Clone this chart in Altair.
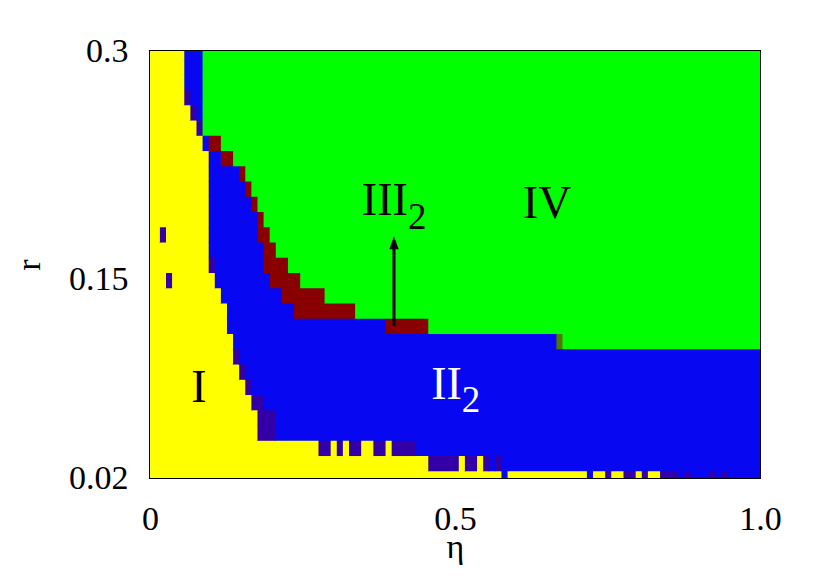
import altair as alt
import pandas as pd

# ---- grid: rows of r (cell centres), runs of eta columns (index*0.01)
r_rows = [0.30, 0.29, 0.28, 0.27, 0.26, 0.25, 0.24, 0.23, 0.22, 0.21, 0.20, 0.19,
          0.18, 0.17, 0.16, 0.15, 0.14, 0.13, 0.12, 0.11, 0.10, 0.09, 0.08, 0.07,
          0.06, 0.05, 0.04, 0.03, 0.02]

row_runs = [
    "Y0-5 B6-8 G9-100",
    "Y0-5 B6-8 G9-100",
    "Y0-5 B6-8 G9-100",
    "Y0-5 P6 B7-8 G9-100",
    "Y0-6 P7 B8 G9-100",
    "Y0-7 P8 G9-100",
    "Y0-8 B9 R10-11 G12-100",
    "Y0-9 B10-11 R12-13 G14-100",
    "Y0-9 B10-14 R15 G16-100",
    "Y0-9 B10-15 R16 G17-100",
    "Y0-9 B10-16 R17 G18-100",
    "Y0-9 B10-17 R18 G19-100",
    "Y0-1 P2 Y3-9 B10-17 R18-19 G20-100",
    "Y0-9 B10-18 R19-20 G21-100",
    "Y0-9 P10 B11-18 R19-22 G23-100",
    "Y0-2 P3 Y4-10 B11-19 R20-24 G25-100",
    "Y0-11 B12-21 R22-28 G29-100",
    "Y0-12 B13-23 R24-33 G34-100",
    "Y0-12 B13-38 R39-45 G46-100",
    "Y0-13 B14-66 O67 G68-100",
    "Y0-13 P14 B15-100",
    "Y0-14 P15 B16-100",
    "Y0-15 P16 B17-100",
    "Y0-16 P17-18 B19-100",
    "Y0-17 P18-20 B21-100",
    "Y0-17 P18-20 B21-100",
    "Y0-27 P28-29 Y30 P31 Y32 P33-34 Y35-36 P37-38 Y39 P40-43 B44-100",
    "Y0-45 P46-50 Y51 P52-53 Y54 P55 B56 P57 B58-100",
    "Y0-57 B58 Y59-71 B72 Y73-74 P75 Y76-77 P78-79 Y80 P81 Y82-83 P84-86 B87 P88 B89-91 P92 B93 P94 B95-100",
]

eta_step = 0.01
r_step = 0.01

phase_codes = ["Y", "B", "P", "R", "G", "O"]
phase_colors = ["#FFFF00", "#0707F2", "#3300A8", "#880000", "#00FF00", "#4A7A00"]

# annotation texts
label_text = ["III", "IV", "I", "II"]
label_eta = [0.385, 0.651, 0.080, 0.486]
label_r = [0.1925, 0.1905, 0.0698, 0.0718]
label_color = ["black", "black", "black", "white"]

sub_text = ["2", "2"]
sub_eta = [0.423, 0.511]
sub_r = [0.1833, 0.0635]
sub_color = ["black", "white"]

arrow_eta = [0.40]
arrow_r_start = [0.1197]
arrow_r_end = [0.172]
arrow_head_r = [0.1742]

# ---- build cell table; cells overlap their neighbour slightly and are drawn
# in reverse order so the overlap hides anti-alias seams
overlap_x = 0.0012
overlap_y = 0.0006
rows = []
for r, runs in zip(r_rows, row_runs):
    for tok in runs.split():
        code = tok[0]
        rng = tok[1:]
        if "-" in rng:
            a, b = rng.split("-")
            j0, j1 = int(a), int(b)
        else:
            j0 = j1 = int(rng)
        rows.append({
            "x": max(0.0, j0 * eta_step - eta_step / 2),
            "x2": min(1.0, j1 * eta_step + eta_step / 2 + overlap_x),
            "y": max(0.02, r - r_step / 2 - overlap_y),
            "y2": min(0.30, r + r_step / 2),
            "phase": code,
        })
rows = rows[::-1]
for i, rw in enumerate(rows):
    rw["order"] = i
cells = pd.DataFrame(rows)

xscale = alt.Scale(domain=[0, 1], nice=False, zero=False)
yscale = alt.Scale(domain=[0.02, 0.30], nice=False, zero=False)
cscale = alt.Scale(domain=phase_codes, range=phase_colors)

xaxis = alt.Axis(values=[0, 0.5, 1.0],
                 labelExpr="datum.value == 0 ? '0' : (datum.value == 1 ? '1.0' : '0.5')",
                 title="η", titleBaseline="alphabetic", titlePadding=21,
                 labelPadding=24, labelFlush=False)
yaxis = alt.Axis(values=[0.02, 0.15, 0.30],
                 labelExpr="datum.value == 0.3 ? '0.3' : (datum.value == 0.15 ? '0.15' : '0.02')",
                 title="r", titlePadding=22, labelPadding=22, labelFlush=False,
                 labelBaseline="middle")

base_cells = alt.Chart(cells).mark_rect(strokeWidth=0, opacity=1).encode(
    x=alt.X("x:Q", scale=xscale, axis=xaxis),
    x2="x2:Q",
    y=alt.Y("y:Q", scale=yscale, axis=yaxis),
    y2="y2:Q",
    color=alt.Color("phase:N", scale=cscale, legend=None),
    order=alt.Order("order:Q"),
)

arrow_df = pd.DataFrame({"eta": arrow_eta, "r0": arrow_r_start, "r1": arrow_r_end,
                         "rh": arrow_head_r})
shaft = alt.Chart(arrow_df).mark_rule(color="black", strokeWidth=3).encode(
    x=alt.X("eta:Q", scale=xscale), y=alt.Y("r0:Q", scale=yscale), y2="r1:Q")
head = alt.Chart(arrow_df).mark_point(
    shape="M0,-1L0.72,1L-0.72,1Z", size=170, filled=True, color="black", opacity=1
).encode(x=alt.X("eta:Q", scale=xscale), y=alt.Y("rh:Q", scale=yscale))

lab_df = pd.DataFrame({"t": label_text, "eta": label_eta, "r": label_r, "c": label_color})
labels = alt.Chart(lab_df).mark_text(
    font="Liberation Serif", fontSize=46, align="center", baseline="alphabetic"
).encode(x=alt.X("eta:Q", scale=xscale), y=alt.Y("r:Q", scale=yscale),
         text="t:N", color=alt.Color("c:N", scale=None))

sub_df = pd.DataFrame({"t": sub_text, "eta": sub_eta, "r": sub_r, "c": sub_color})
subs = alt.Chart(sub_df).mark_text(
    font="Liberation Serif", fontSize=37, align="left", baseline="alphabetic"
).encode(x=alt.X("eta:Q", scale=xscale), y=alt.Y("r:Q", scale=yscale),
         text="t:N", color=alt.Color("c:N", scale=None))

chart = alt.layer(base_cells, shaft, head, labels, subs).properties(
    width=610, height=427,
    autosize=alt.AutoSizeParams(type="none"),
    padding={"left": 142, "top": 43, "right": 60, "bottom": 95},
    background="white",
).configure_view(
    stroke="black", strokeWidth=2
).configure_axis(
    domain=False, ticks=False, grid=False,
    labelFont="Liberation Serif", labelFontSize=34, labelColor="black",
    titleFont="Liberation Serif", titleFontSize=34, titleFontWeight="normal",
    titleColor="black",
)

chart.save("out.html", embed_options={"renderer": "svg", "actions": False})
